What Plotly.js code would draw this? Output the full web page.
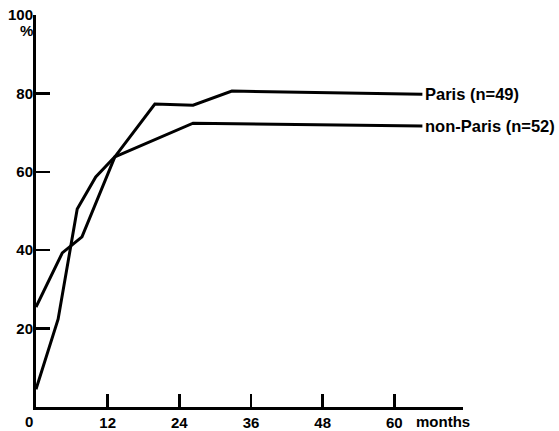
<!DOCTYPE html>
<html>
<head>
<meta charset="utf-8">
<script src="https://cdn.plot.ly/plotly-3.0.1.min.js"></script>
<style>html,body{margin:0;padding:0;background:#fff;}#chart{width:559px;height:431px;}</style>
</head>
<body>
<div id="chart"></div>
<script>
// Series values (months, %)
const parisMonths = [0, 3.7, 6.9, 10.0, 13.2, 19.9, 26.3, 32.8, 64.7];
const parisValues = [4.5, 22.4, 50.5, 58.7, 63.8, 77.3, 77.0, 80.6, 79.8];
const nonParisMonths = [0, 4.4, 7.7, 10.7, 13.2, 26.3, 64.7];
const nonParisValues = [25.5, 39.3, 43.4, 54.8, 63.8, 72.4, 71.7];
const seriesNames = ["Paris (n=49)", "non-Paris (n=52)"];
const xTickVals = [12, 24, 36, 48, 60];
const yTickVals = [20, 40, 60, 80, 100];

const font = {family: "Liberation Sans, Arial, sans-serif", size: 15, color: "#000", weight: 700};
const labelFont = {family: "Liberation Sans, Arial, sans-serif", size: 16.5, color: "#000", weight: 700};
const lineStyle = {color: "#000", width: 3};

const traces = [
  {x: parisMonths, y: parisValues, mode: "lines", line: lineStyle, name: seriesNames[0], hoverinfo: "skip"},
  {x: nonParisMonths, y: nonParisValues, mode: "lines", line: lineStyle, name: seriesNames[1], hoverinfo: "skip"}
];

const layout = {
  width: 559, height: 431,
  margin: {l: 36, r: 96, t: 15, b: 24, pad: 0},
  paper_bgcolor: "#fff", plot_bgcolor: "#fff",
  showlegend: false,
  font: font,
  xaxis: {
    range: [0, 71.5], tickvals: xTickVals, ticktext: xTickVals.map(String),
    ticks: "inside", ticklen: 13, tickwidth: 2.5, tickcolor: "#000",
    showline: true, linewidth: 3, linecolor: "#000",
    showgrid: false, zeroline: false, tickfont: font, fixedrange: true
  },
  yaxis: {
    range: [0, 100], tickvals: yTickVals, ticktext: yTickVals.map(String),
    ticks: "inside", ticklen: 14, tickwidth: 2.5, tickcolor: "#000",
    showline: true, linewidth: 3, linecolor: "#000", ticklabelstandoff: -3,
    showgrid: false, zeroline: false, tickfont: font, fixedrange: true
  },
  annotations: [
    {text: "%", xref: "paper", yref: "paper", x: 0, y: 1, xanchor: "right", yanchor: "middle", xshift: -1, yshift: -15, showarrow: false, font: font},
    {text: "0", xref: "x", yref: "paper", x: 0, y: 0, xanchor: "center", yanchor: "middle", xshift: -7, yshift: -14, showarrow: false, font: font},
    {text: "months", xref: "x", yref: "paper", x: 60, y: 0, xanchor: "left", yanchor: "middle", xshift: 20, yshift: -14, showarrow: false, font: font},
    {text: seriesNames[0], xref: "x", yref: "y", x: parisMonths[parisMonths.length - 1], y: parisValues[parisValues.length - 1], xanchor: "left", yanchor: "middle", xshift: 1, showarrow: false, font: labelFont},
    {text: seriesNames[1], xref: "x", yref: "y", x: nonParisMonths[nonParisMonths.length - 1], y: nonParisValues[nonParisValues.length - 1], xanchor: "left", yanchor: "middle", xshift: 1, showarrow: false, font: labelFont}
  ]
};

Plotly.newPlot("chart", traces, layout, {displayModeBar: false, staticPlot: true});
</script>
</body>
</html>
